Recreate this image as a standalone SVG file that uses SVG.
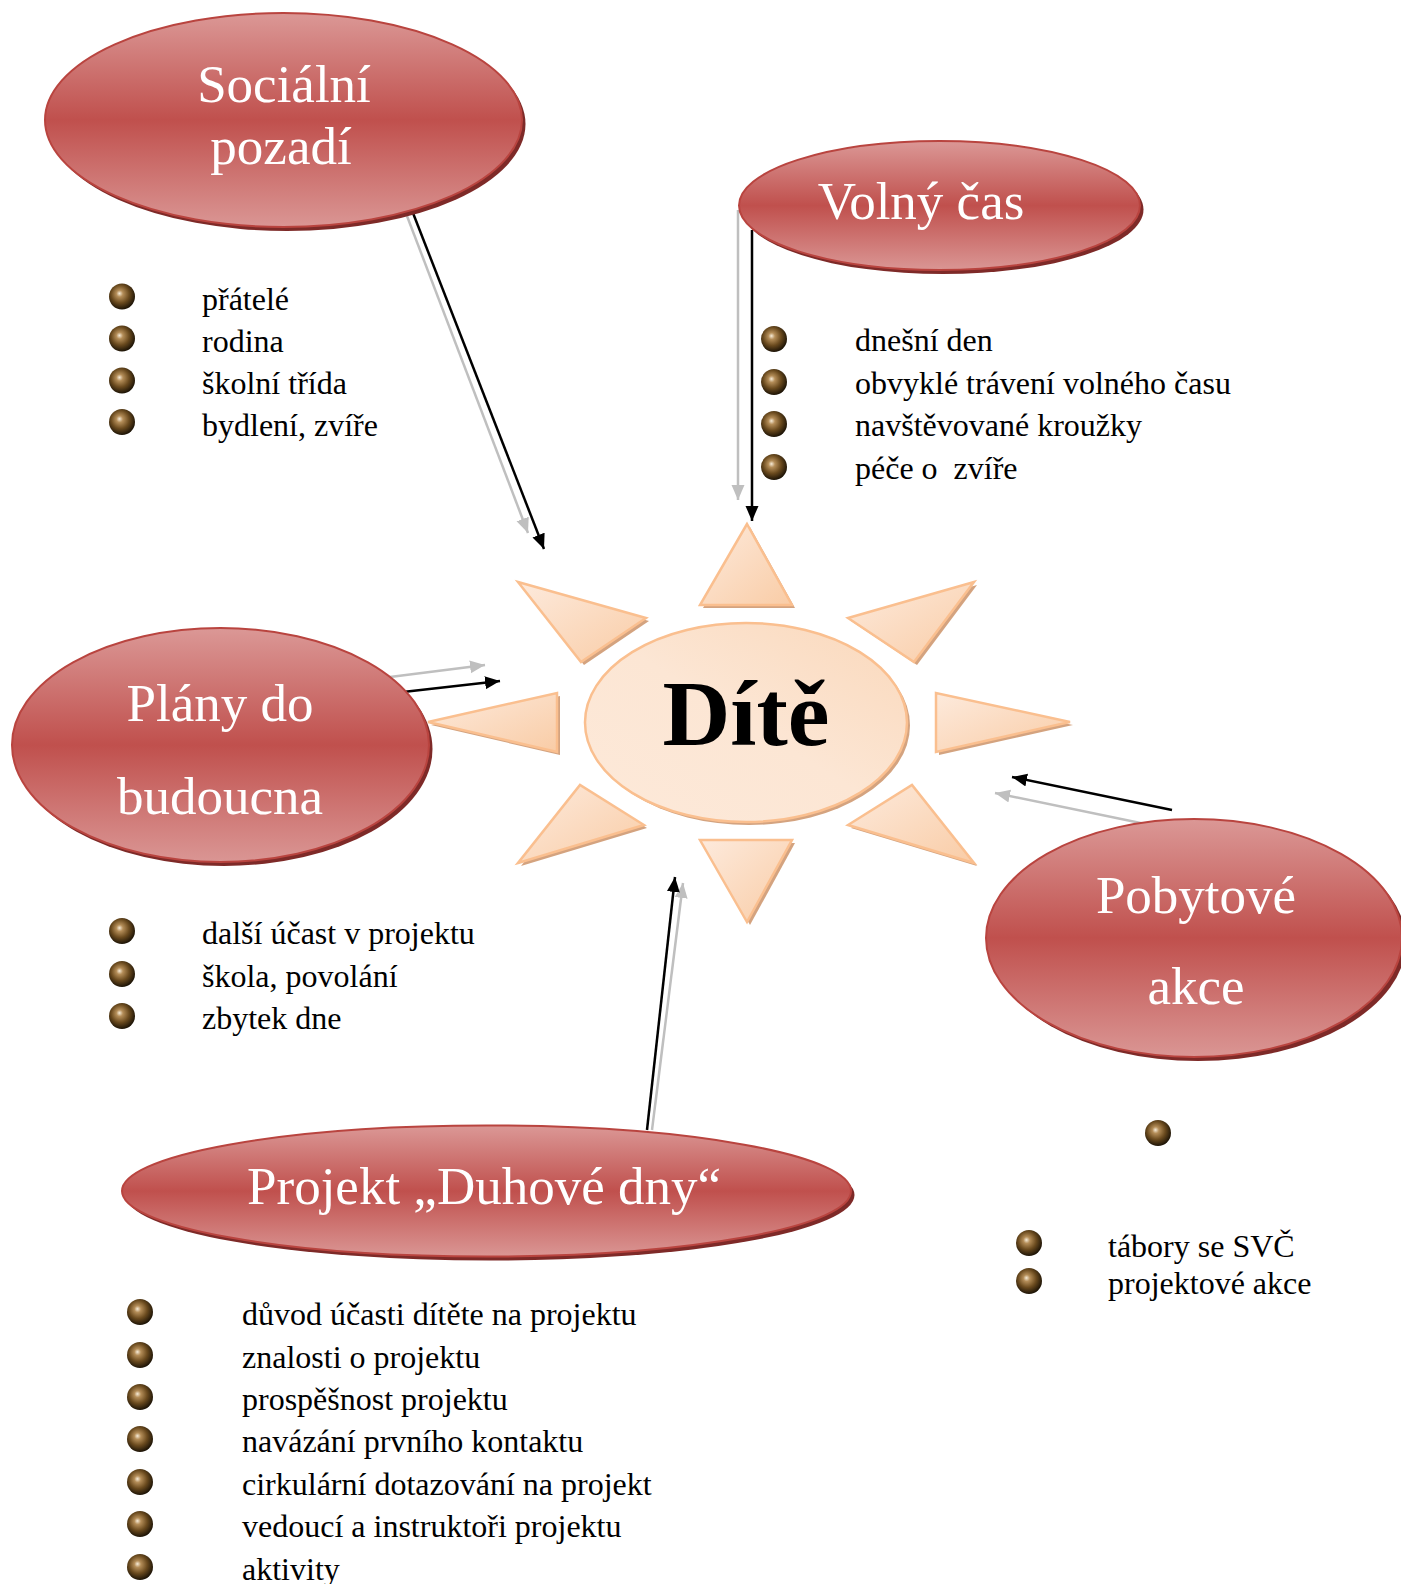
<svg xmlns="http://www.w3.org/2000/svg" width="1401" height="1584" viewBox="0 0 1401 1584">
<defs>
<linearGradient id="red" x1="0" y1="0" x2="0" y2="1">
<stop offset="0" stop-color="#db9896"/>
<stop offset="0.5" stop-color="#c0504d"/>
<stop offset="1" stop-color="#da9694"/>
</linearGradient>
<linearGradient id="peach" x1="0" y1="1" x2="1" y2="0">
<stop offset="0" stop-color="#fde9d9"/>
<stop offset="0.5" stop-color="#fce6d4"/>
<stop offset="1" stop-color="#fad8bb"/>
</linearGradient>
<linearGradient id="tri" x1="0" y1="0" x2="1" y2="1">
<stop offset="0" stop-color="#fdeadc"/>
<stop offset="1" stop-color="#f9cca6"/>
</linearGradient>
<radialGradient id="ball" cx="0.45" cy="0.42" r="0.58" fx="0.4" fy="0.38">
<stop offset="0" stop-color="#f7ecd8"/>
<stop offset="0.22" stop-color="#b48d58"/>
<stop offset="0.6" stop-color="#6a4a1e"/>
<stop offset="1" stop-color="#1c1306"/>
</radialGradient>
<marker id="ab" markerUnits="userSpaceOnUse" markerWidth="17" markerHeight="14" refX="15" refY="6.5" orient="auto">
<path d="M0,0 L15,6.5 L0,13 z" fill="#000"/>
</marker>
<marker id="ag" markerUnits="userSpaceOnUse" markerWidth="17" markerHeight="14" refX="15" refY="6.5" orient="auto">
<path d="M0,0 L15,6.5 L0,13 z" fill="#bfbfbf"/>
</marker>
</defs>
<style>
.sh{fill:#7e2a28}
.ov{fill:url(#red);stroke:#b9443f;stroke-width:2}
.lbl{font-family:"Liberation Serif","Times New Roman",serif;font-size:53px;fill:#fff;text-anchor:middle}
.li{font-family:"Liberation Serif","Times New Roman",serif;font-size:32px;fill:#000}
.b{fill:url(#ball)}
.tr{fill:url(#tri);stroke:#fabf8f;stroke-width:2.5;stroke-linejoin:miter}
.trs{fill:#d4a37f}
.bk{stroke:#000;stroke-width:2.5;fill:none;marker-end:url(#ab)}
.gr{stroke:#bfbfbf;stroke-width:2.5;fill:none;marker-end:url(#ag)}
</style>
<rect width="1401" height="1584" fill="#fff"/>

<g id="connectors">
<line class="gr" x1="407" y1="216" x2="528" y2="533"/>
<line class="bk" x1="413" y1="213" x2="544" y2="549"/>
<line class="gr" x1="738" y1="210" x2="738" y2="500"/>
<line class="bk" x1="752" y1="230" x2="752" y2="521"/>
<line class="gr" x1="390" y1="677" x2="485" y2="665"/>
<line class="bk" x1="403" y1="692" x2="500" y2="681"/>
<line class="gr" x1="1155" y1="826" x2="995" y2="793"/>
<line class="bk" x1="1172" y1="810" x2="1012" y2="777"/>
<line class="gr" x1="652" y1="1130" x2="683" y2="883"/>
<line class="bk" x1="647" y1="1130" x2="675" y2="877"/>
</g>

<g id="node-dite">
<g transform="translate(3,3)">
<polygon class="trs" points="747,524 700,605 792,605"/>
<polygon class="trs" points="747,922 700,840 792,840"/>
<polygon class="trs" points="1070,722 936,693 936,752"/>
<polygon class="trs" points="428,722 557,693 557,752"/>
<polygon class="trs" points="518,582 646,618 581,662"/>
<polygon class="trs" points="974,582 848,618 914,662"/>
<polygon class="trs" points="518,863 644,825 580,785"/>
<polygon class="trs" points="974,863 848,825 912,785"/>
<ellipse cx="746" cy="722.5" rx="161" ry="99.5" class="trs"/>
</g>
<polygon class="tr" points="747,524 700,605 792,605"/>
<polygon class="tr" points="747,922 700,840 792,840"/>
<polygon class="tr" points="1070,722 936,693 936,752"/>
<polygon class="tr" points="428,722 557,693 557,752"/>
<polygon class="tr" points="518,582 646,618 581,662"/>
<polygon class="tr" points="974,582 848,618 914,662"/>
<polygon class="tr" points="518,863 644,825 580,785"/>
<polygon class="tr" points="974,863 848,825 912,785"/>
<ellipse cx="746" cy="722.5" rx="161" ry="99.5" fill="url(#peach)" stroke="#fabf8f" stroke-width="2.5"/>
<text x="746" y="745" font-family="'Liberation Serif','Times New Roman',serif" font-size="94" font-weight="bold" text-anchor="middle" fill="#000">Dítě</text>
</g>

<g id="node-socialni">
<ellipse class="sh" cx="287" cy="124" rx="238.5" ry="107"/>
<ellipse class="ov" cx="283.5" cy="120" rx="238.5" ry="107"/>
<text class="lbl" x="284" y="102">Sociální</text>
<text class="lbl" x="281" y="164">pozadí</text>
<circle class="b" cx="122" cy="296.5" r="13"/>
<circle class="b" cx="122" cy="338.5" r="13"/>
<circle class="b" cx="122" cy="380.5" r="13"/>
<circle class="b" cx="122" cy="422" r="13"/>
<text class="li" x="202" y="310">přátelé</text>
<text class="li" x="202" y="352">rodina</text>
<text class="li" x="202" y="394">školní třída</text>
<text class="li" x="202" y="436">bydlení, zvíře</text>
</g>

<g id="node-volny">
<ellipse class="sh" cx="943" cy="209.5" rx="200.5" ry="64.5"/>
<ellipse class="ov" cx="939.5" cy="205.5" rx="200.5" ry="64.5"/>
<text class="lbl" x="921" y="219">Volný čas</text>
<circle class="b" cx="774" cy="339" r="13"/>
<circle class="b" cx="774" cy="382" r="13"/>
<circle class="b" cx="774" cy="424" r="13"/>
<circle class="b" cx="774" cy="467" r="13"/>
<text class="li" x="855" y="351">dnešní den</text>
<text class="li" x="855" y="394">obvyklé trávení volného času</text>
<text class="li" x="855" y="436">navštěvované kroužky</text>
<text class="li" x="855" y="479" xml:space="preserve">péče o  zvíře</text>
</g>

<g id="node-plany">
<ellipse class="sh" cx="224" cy="749" rx="208.5" ry="117"/>
<ellipse class="ov" cx="220.5" cy="745" rx="208.5" ry="117"/>
<text class="lbl" x="220" y="721">Plány do</text>
<text class="lbl" x="220" y="814">budoucna</text>
<circle class="b" cx="122" cy="931" r="13"/>
<circle class="b" cx="122" cy="974" r="13"/>
<circle class="b" cx="122" cy="1016" r="13"/>
<text class="li" x="202" y="944">další účast v projektu</text>
<text class="li" x="202" y="987">škola, povolání</text>
<text class="li" x="202" y="1029">zbytek dne</text>
</g>

<g id="node-pobytove">
<ellipse class="sh" cx="1198" cy="942" rx="208" ry="119"/>
<ellipse class="ov" cx="1194" cy="938" rx="208" ry="119"/>
<text class="lbl" x="1196" y="913">Pobytové</text>
<text class="lbl" x="1196" y="1004">akce</text>
<circle class="b" cx="1158" cy="1133" r="13"/>
<circle class="b" cx="1029" cy="1243" r="13"/>
<circle class="b" cx="1029" cy="1281" r="13"/>
<text class="li" x="1108" y="1257">tábory se SVČ</text>
<text class="li" x="1108" y="1294">projektové akce</text>
</g>

<g id="node-projekt">
<ellipse class="sh" cx="490" cy="1195" rx="364.5" ry="65.5"/>
<ellipse class="ov" cx="486.5" cy="1191" rx="364.5" ry="65.5"/>
<text class="lbl" x="484" y="1204">Projekt „Duhové dny“</text>
<circle class="b" cx="140" cy="1312" r="13"/>
<circle class="b" cx="140" cy="1355" r="13"/>
<circle class="b" cx="140" cy="1397" r="13"/>
<circle class="b" cx="140" cy="1439" r="13"/>
<circle class="b" cx="140" cy="1482" r="13"/>
<circle class="b" cx="140" cy="1524" r="13"/>
<circle class="b" cx="140" cy="1567" r="13"/>
<text class="li" x="242" y="1325">důvod účasti dítěte na projektu</text>
<text class="li" x="242" y="1368">znalosti o projektu</text>
<text class="li" x="242" y="1410">prospěšnost projektu</text>
<text class="li" x="242" y="1452">navázání prvního kontaktu</text>
<text class="li" x="242" y="1495">cirkulární dotazování na projekt</text>
<text class="li" x="242" y="1537">vedoucí a instruktoři projektu</text>
<text class="li" x="242" y="1580">aktivity</text>
</g>
</svg>
